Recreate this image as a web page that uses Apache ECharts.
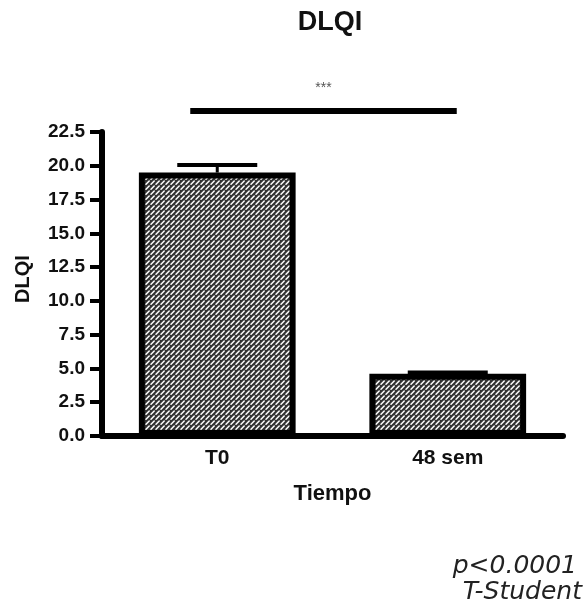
<!DOCTYPE html>
<html>
<head>
<meta charset="utf-8">
<script src="https://cdn.jsdelivr.net/npm/echarts@6/dist/echarts.min.js"></script>
<style>html,body{margin:0;padding:0;background:#fff;}#c{width:588px;height:612px;}</style>
</head>
<body>
<div id="c"></div>
<script>
var categories = ['T0', '48 sem'];
var means = [19.5, 4.6];
var sems = [0.55, 0.1];
var yTicks = { min: 0, max: 22.5, interval: 2.5 };
var sigLevel = 24.05;
var sigLabel = '***';

function makePattern() {
  var c = document.createElement('canvas');
  c.width = 5; c.height = 5;
  var g = c.getContext('2d');
  g.fillStyle = '#333333';
  g.fillRect(0, 0, 5, 5);
  g.strokeStyle = '#ffffff';
  g.lineWidth = 1.5;
  g.lineCap = 'round';
  g.beginPath();
  g.moveTo(1, 4.2);
  g.lineTo(4.2, 1);
  g.stroke();
  return c;
}

var chart = echarts.init(document.getElementById('c'), null, { renderer: 'canvas' });
var errData = categories.map(function (c, i) { return [i, means[i], means[i] + sems[i]]; });

chart.setOption({
  animation: false,
  grid: { left: 102, right: 25, top: 132, bottom: 176 },
  xAxis: {
    type: 'category',
    data: categories,
    name: 'Tiempo',
    nameLocation: 'middle',
    nameGap: 47,
    nameTextStyle: { fontFamily: 'Liberation Sans', fontWeight: 'bold', fontSize: 22, color: '#111' },
    axisLine: { lineStyle: { color: '#000', width: 6 } },
    axisTick: { alignWithLabel: true, length: 10, lineStyle: { color: '#000', width: 4 } },
    axisLabel: { margin: 12, fontFamily: 'Liberation Sans', fontWeight: 'bold', fontSize: 21, color: '#111' },
    splitLine: { show: false }
  },
  yAxis: {
    type: 'value',
    min: yTicks.min, max: yTicks.max, interval: yTicks.interval,
    name: 'DLQI',
    nameLocation: 'middle',
    nameGap: 69,
    nameTextStyle: { fontFamily: 'Liberation Sans', fontWeight: 'bold', fontSize: 20, color: '#111', padding: [0, 0, 0, 10] },
    axisLine: { show: true, lineStyle: { color: '#000', width: 6 } },
    axisTick: { show: true, length: 12, lineStyle: { color: '#000', width: 4 } },
    axisLabel: { margin: 17, fontFamily: 'Liberation Sans', fontWeight: 'bold', fontSize: 19, color: '#111',
      formatter: function (v) { return v.toFixed(1); } },
    splitLine: { show: false }
  },
  series: [
    {
      type: 'bar',
      data: means,
      barWidth: '68%',
      itemStyle: { color: { image: makePattern(), repeat: 'repeat' }, borderColor: '#000', borderWidth: 6 },
      z: 2
    },
    {
      type: 'custom',
      data: errData,
      z: 1,
      renderItem: function (params, api) {
        var x = api.value(0);
        var top = api.coord([x, api.value(2)]);
        var base = api.coord([x, api.value(1)]);
        return {
          type: 'group',
          children: [
            { type: 'line', shape: { x1: top[0], y1: top[1], x2: base[0], y2: base[1] }, style: { stroke: '#000', lineWidth: 3 } },
            { type: 'line', shape: { x1: top[0] - 40, y1: top[1], x2: top[0] + 40, y2: top[1] }, style: { stroke: '#000', lineWidth: 4 } }
          ]
        };
      }
    },
    {
      type: 'custom',
      data: [[0, 1, sigLevel]],
      clip: false,
      z: 3,
      renderItem: function (params, api) {
        var p0 = api.coord([api.value(0), api.value(2)]);
        var p1 = api.coord([api.value(1), api.value(2)]);
        var x1 = p0[0] - 27, x2 = p1[0] + 9;
        return {
          type: 'group',
          children: [
            { type: 'line', shape: { x1: x1, y1: p0[1], x2: x2, y2: p0[1] }, style: { stroke: '#000', lineWidth: 6 } },
            { type: 'text', style: { text: sigLabel, x: (x1 + x2) / 2, y: p0[1] - 23, align: 'center', verticalAlign: 'middle',
              fontFamily: 'Liberation Sans', fontSize: 14, fill: '#555' } }
          ]
        };
      }
    }
  ],
  graphic: [
    { type: 'text', x: 330, y: 23, style: { text: 'DLQI', align: 'center', verticalAlign: 'middle',
      fontFamily: 'Liberation Sans', fontWeight: 'bold', fontSize: 27, fill: '#111' } },
    { type: 'text', x: 577, y: 566, style: { text: 'p<0.0001', align: 'right', verticalAlign: 'middle',
      fontFamily: 'DejaVu Sans', fontStyle: 'italic', fontSize: 25, fill: '#222' } },
    { type: 'text', x: 582, y: 592, style: { text: 'T-Student', align: 'right', verticalAlign: 'middle',
      fontFamily: 'DejaVu Sans', fontStyle: 'italic', fontSize: 25, fill: '#222' } }
  ]
});
</script>
</body>
</html>
